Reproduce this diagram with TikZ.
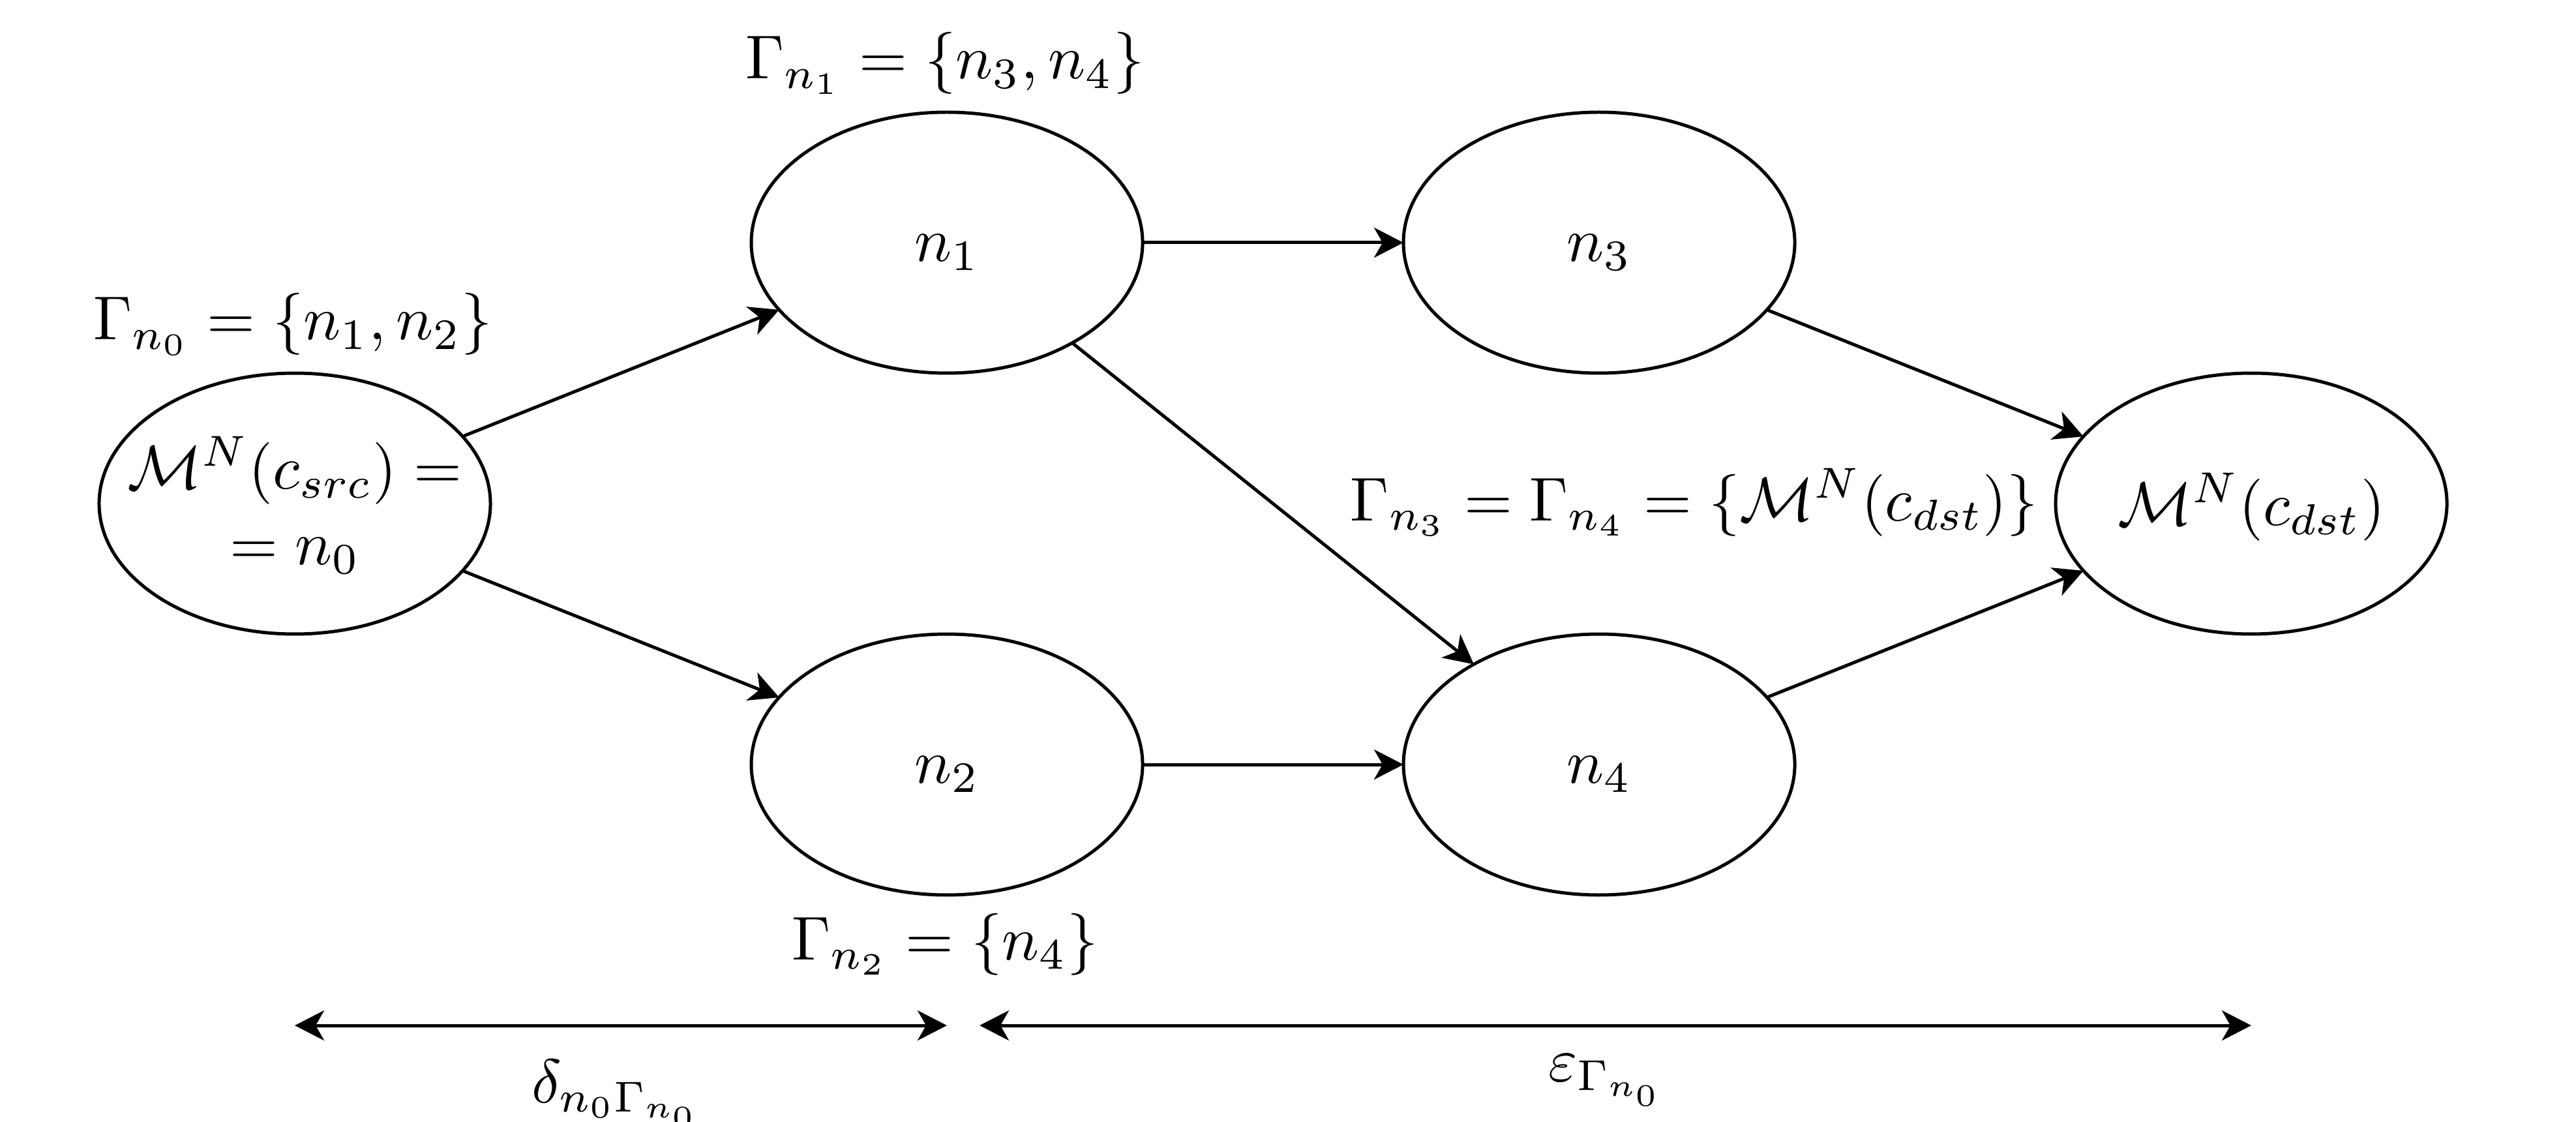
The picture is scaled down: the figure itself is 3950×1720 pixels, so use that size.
\documentclass[tikz,border=0pt]{standalone}
\usetikzlibrary{arrows.meta,shapes.geometric}
\begin{document}
\begin{tikzpicture}[x=0.10526pt,y=-0.10526pt,line width=0.526pt,
  >={Stealth[length=4.74pt,width=4.84pt,inset=1.37pt]},
  state/.style={draw,ellipse,minimum width=63.16pt,minimum height=42.1pt,inner sep=0pt,outer sep=0pt,text height=7.5pt,text depth=1.6pt},
  lbl/.style={anchor=base,inner sep=0pt,outer sep=0pt}]
\useasboundingbox (0,0) rectangle (3950,1720);
% nodes
\node[state,text height=14.6pt,text depth=7pt] (n0) at (452,772)
  {\makebox[0pt]{$\begin{array}{@{}c@{}}\mathcal{M}^N(c_{src}) =\\[0.2pt] = n_0\end{array}$}};
\node[state] (n1) at (1452,372) {$n_1$};
\node[state] (n2) at (1452,1172) {$n_2$};
\node[state] (n3) at (2452,372) {$n_3$};
\node[state] (n4) at (2452,1172) {$n_4$};
\node[state,text depth=0.55pt] (dst) at (3452,772) {\makebox[0pt]{$\mathcal{M}^N(c_{dst})$}};
% labels
\node[lbl] (g0) at (449,521) {$\Gamma_{n_0} = \{n_1, n_2\}$};
\node[lbl] (g1) at (1449,121) {$\Gamma_{n_1} = \{n_3, n_4\}$};
\node[lbl] (g2) at (1449,1471) {$\Gamma_{n_2} = \{n_4\}$};
\node[lbl] (g34) at (2598,798) {$\Gamma_{n_3} = \Gamma_{n_4} = \{\mathcal{M}^N(c_{dst})\}$};
\node[lbl] (dl) at (946,1690) {$\delta_{n_0\Gamma_{n_0}}$};
\node[lbl] (el) at (2464,1657) {$\varepsilon_{\Gamma_{n_0}}$};
% edges
\draw[->] (n0) -- (n1);
\draw[->] (n0) -- (n2);
\draw[->] (n1) -- (n3);
\draw[->] (n1) -- (n4);
\draw[->] (n2) -- (n4);
\draw[->] (n3) -- (dst);
\draw[->] (n4) -- (dst);
% span arrows
\coordinate (s1) at (452,1572);
\coordinate (e1) at (1452,1572);
\coordinate (s2) at (1502,1572);
\coordinate (e2) at (3452,1572);
\draw[<->] (s1) -- (e1);
\draw[<->] (s2) -- (e2);
\end{tikzpicture}
\end{document}
